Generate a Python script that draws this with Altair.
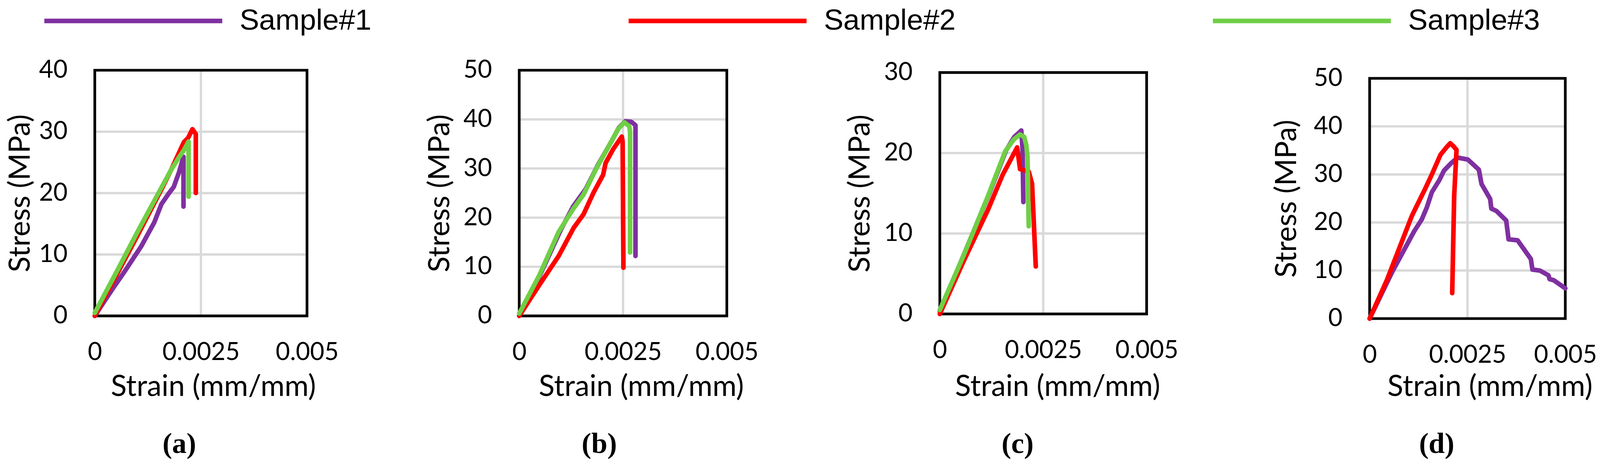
import altair as alt
import pandas as pd

SAMPLES = ["Sample#1", "Sample#2", "Sample#3"]
COLORS = ["#7F30A0", "#FF0000", "#6FCF45"]
X_TICKS = [0, 0.0025, 0.005]
X_TITLE = "Strain (mm/mm)"
Y_TITLE = "Stress (MPa)"
CAPTIONS = ["(a)", "(b)", "(c)", "(d)"]
Y_MAX = [40, 50, 30, 50]
GRID_X = [0.0025]

# ---- panel (a)
A1_STRAIN = [0, 0.0004, 0.0007, 0.0011, 0.0014, 0.00157, 0.00175, 0.00186, 0.00198, 0.00209, 0.00209]
A1_STRESS = [0, 4.2, 7.2, 11.4, 15.2, 18.2, 20.0, 21.0, 23.3, 25.9, 17.8]
A2_STRAIN = [0, 0.0005, 0.001, 0.0013, 0.0016, 0.0018, 0.002, 0.0021, 0.0022, 0.0023, 0.00238, 0.00238]
A2_STRESS = [0, 6.5, 13.0, 17.0, 21.0, 23.8, 26.8, 28.3, 29.0, 30.4, 29.6, 20.0]
A3_STRAIN = [0, 0.0005, 0.001, 0.0015, 0.0018, 0.002, 0.0021, 0.00221, 0.00221]
A3_STRESS = [0.5, 7.0, 13.6, 20.0, 23.8, 26.0, 27.0, 28.4, 19.4]

# ---- panel (b)
B1_STRAIN = [0, 0.0005, 0.001, 0.0013, 0.0016, 0.0019, 0.0022, 0.0024, 0.00255, 0.0027, 0.0028, 0.0028]
B1_STRESS = [0, 8.3, 17.5, 22.3, 25.8, 30.8, 35.2, 38.3, 39.6, 39.5, 38.8, 12.2]
B2_STRAIN = [0, 0.0005, 0.00095, 0.00131, 0.00155, 0.00179, 0.00202, 0.00208, 0.00226, 0.00247, 0.00249, 0.00251]
B2_STRESS = [0, 6.5, 12.2, 17.9, 20.7, 25.1, 28.7, 31.1, 33.9, 36.5, 35.5, 9.8]
B3_STRAIN = [0, 0.00048, 0.00095, 0.00131, 0.00155, 0.00185, 0.00214, 0.00238, 0.00253, 0.00265, 0.00267, 0.00267]
B3_STRESS = [0.5, 8.2, 17.1, 21.9, 24.7, 29.9, 34.3, 38.0, 39.4, 38.6, 37.5, 12.9]

# ---- panel (c)
C1_STRAIN = [0, 0.0006, 0.0012, 0.0016, 0.0018, 0.00193, 0.00197, 0.002, 0.00202]
C1_STRESS = [0.3, 7.6, 15.0, 20.3, 22.0, 22.6, 22.8, 20.5, 13.9]
C2_STRAIN = [0, 0.00057, 0.00116, 0.00152, 0.00187, 0.00194, 0.00215, 0.00223, 0.00232]
C2_STRESS = [0, 6.5, 12.9, 17.3, 20.7, 18.0, 17.7, 16.2, 5.9]
C3_STRAIN = [0, 0.00057, 0.00116, 0.00158, 0.00179, 0.00194, 0.00204, 0.00209, 0.00212, 0.00215]
C3_STRESS = [0.5, 7.2, 14.6, 20.2, 21.7, 22.3, 22.0, 21.0, 19.5, 10.9]

# ---- panel (d)
D1_STRAIN = [0, 0.00057, 0.00114, 0.00133, 0.00146, 0.00159, 0.00178, 0.0019, 0.00209, 0.00225,
             0.00251, 0.00279, 0.00286, 0.00308, 0.00311, 0.00324, 0.00349, 0.00355, 0.00378,
             0.00412, 0.00416, 0.00435, 0.00457, 0.0046, 0.0047, 0.005]
D1_STRESS = [0, 9.6, 18.2, 20.6, 23.1, 26.3, 28.8, 30.8, 32.4, 33.5,
             33.1, 31.0, 28.0, 24.9, 22.9, 22.4, 20.4, 16.5, 16.3,
             12.4, 10.2, 10.0, 9.0, 8.2, 8.0, 6.3]
D2_STRAIN = [0, 0.00044, 0.00108, 0.0014, 0.00159, 0.00181, 0.00196, 0.00206, 0.00215, 0.00222, 0.00216, 0.00211]
D2_STRESS = [0, 8.0, 21.4, 26.7, 30.0, 34.1, 35.6, 36.5, 35.8, 35.1, 25.5, 5.3]


def frame(series):
    rows = []
    for name, xs, ys in series:
        for i, (x, y) in enumerate(zip(xs, ys)):
            rows.append({"sample": name, "strain": x, "stress": y, "idx": i})
    return pd.DataFrame(rows)


PANELS = [
    frame([(SAMPLES[0], A1_STRAIN, A1_STRESS), (SAMPLES[1], A2_STRAIN, A2_STRESS), (SAMPLES[2], A3_STRAIN, A3_STRESS)]),
    frame([(SAMPLES[0], B1_STRAIN, B1_STRESS), (SAMPLES[1], B2_STRAIN, B2_STRESS), (SAMPLES[2], B3_STRAIN, B3_STRESS)]),
    frame([(SAMPLES[0], C1_STRAIN, C1_STRESS), (SAMPLES[1], C2_STRAIN, C2_STRESS), (SAMPLES[2], C3_STRAIN, C3_STRESS)]),
    frame([(SAMPLES[0], D1_STRAIN, D1_STRESS), (SAMPLES[1], D2_STRAIN, D2_STRESS)]),
]

# ---- layout (pixels): every panel cell is W x H, the plot box sits inside it
W, H, SPACING = 551, 645, 546
X_RANGE = [[0, 551], [5, 544], [0, 537], [19, 527]]
Y_RANGE = [[638, 0], [638, 0], [633, 6], [645, 21]]
Y_TITLE_X = [-154, -166, -167, -175]
X_TITLE_DX = [32, 47, 37, 58]
X_TITLE_PAGE_Y = 966
CAP_DX = [-56, -62.5, -73.5, -82.5]

LEGEND = alt.Legend(
    orient="none", legendX=62, legendY=-166, direction="horizontal", title=None,
    symbolType="M-10,0H10", symbolSize=2134, symbolStrokeWidth=12,
    labelFont="Liberation Sans", labelFontSize=76, labelColor="black", labelOffset=238,
    labelLimit=2000, columnPadding=643, padding=0,
)


def panel(i):
    x0, x1 = X_RANGE[i]
    yb, yt = Y_RANGE[i]
    ymax = Y_MAX[i]
    xs = alt.Scale(domain=[0, 0.005], range=[x0, x1], nice=False, zero=False)
    ys = alt.Scale(domain=[0, ymax], range=[yb, yt], nice=False, zero=False)
    x_axis = alt.Axis(values=X_TICKS, format=".4~f", title=X_TITLE, grid=False,
                      offset=-(H - yb), labelPadding=63,
                      titleX=(x0 + x1) / 2 + X_TITLE_DX[i],
                      titleY=X_TITLE_PAGE_Y - (181 + yb))
    y_axis = alt.Axis(values=list(range(0, ymax + 1, 10)), format="d", title=Y_TITLE,
                      grid=False, offset=-x0, labelPadding=71,
                      titleX=Y_TITLE_X[i], titleY=(yb + yt) / 2)

    grid_y = alt.Chart(pd.DataFrame({"gy": list(range(10, ymax, 10))})).mark_rule(
        color="#D9D9D9", strokeWidth=6
    ).encode(
        y=alt.Y("gy:Q", scale=ys, axis=y_axis),
        x=alt.datum(0, scale=xs, axis=x_axis), x2=alt.datum(0.005),
    )
    grid_x = alt.Chart(pd.DataFrame({"gx": GRID_X})).mark_rule(
        color="#D9D9D9", strokeWidth=6
    ).encode(
        x=alt.X("gx:Q", scale=xs, axis=x_axis),
        y=alt.datum(0, scale=ys, axis=y_axis), y2=alt.datum(ymax),
    )
    box = alt.Chart(pd.DataFrame({"k": [0]})).mark_rect(
        fillOpacity=0, stroke="black", strokeWidth=7
    ).encode(
        x=alt.datum(0, scale=xs, axis=x_axis), x2=alt.datum(0.005),
        y=alt.datum(0, scale=ys, axis=y_axis), y2=alt.datum(ymax),
    )
    lines = alt.Chart(PANELS[i]).mark_line(
        strokeWidth=12, strokeCap="round", strokeJoin="round"
    ).encode(
        x=alt.X("strain:Q", scale=xs, axis=x_axis),
        y=alt.Y("stress:Q", scale=ys, axis=y_axis),
        color=alt.Color("sample:N", scale=alt.Scale(domain=SAMPLES, range=COLORS), legend=LEGEND),
        order="idx:Q",
    )
    return alt.layer(grid_y, grid_x, box, lines).properties(
        width=W, height=H,
        title=alt.TitleParams(CAPTIONS[i], orient="bottom", frame="group", anchor="middle",
                              dx=CAP_DX[i], offset=75, font="Liberation Serif",
                              fontSize=75, fontWeight="bold", color="black"),
    )


chart = alt.hconcat(
    panel(0), panel(1), panel(2), panel(3), spacing=SPACING, bounds="flush"
).resolve_scale(color="shared").properties(
    padding={"left": 6, "top": 0, "right": 0, "bottom": 0},
).configure_view(stroke=None).configure_axis(
    domain=False, ticks=False, labelOverlap=False, labelFlush=False, labelLimit=600,
    labelFont="Lato", labelFontSize=64, labelColor="black",
    titleFont="Lato", titleFontSize=76, titleFontWeight="normal", titleColor="black",
)

chart.save("out.html", embed_options={"renderer": "svg", "actions": False})
